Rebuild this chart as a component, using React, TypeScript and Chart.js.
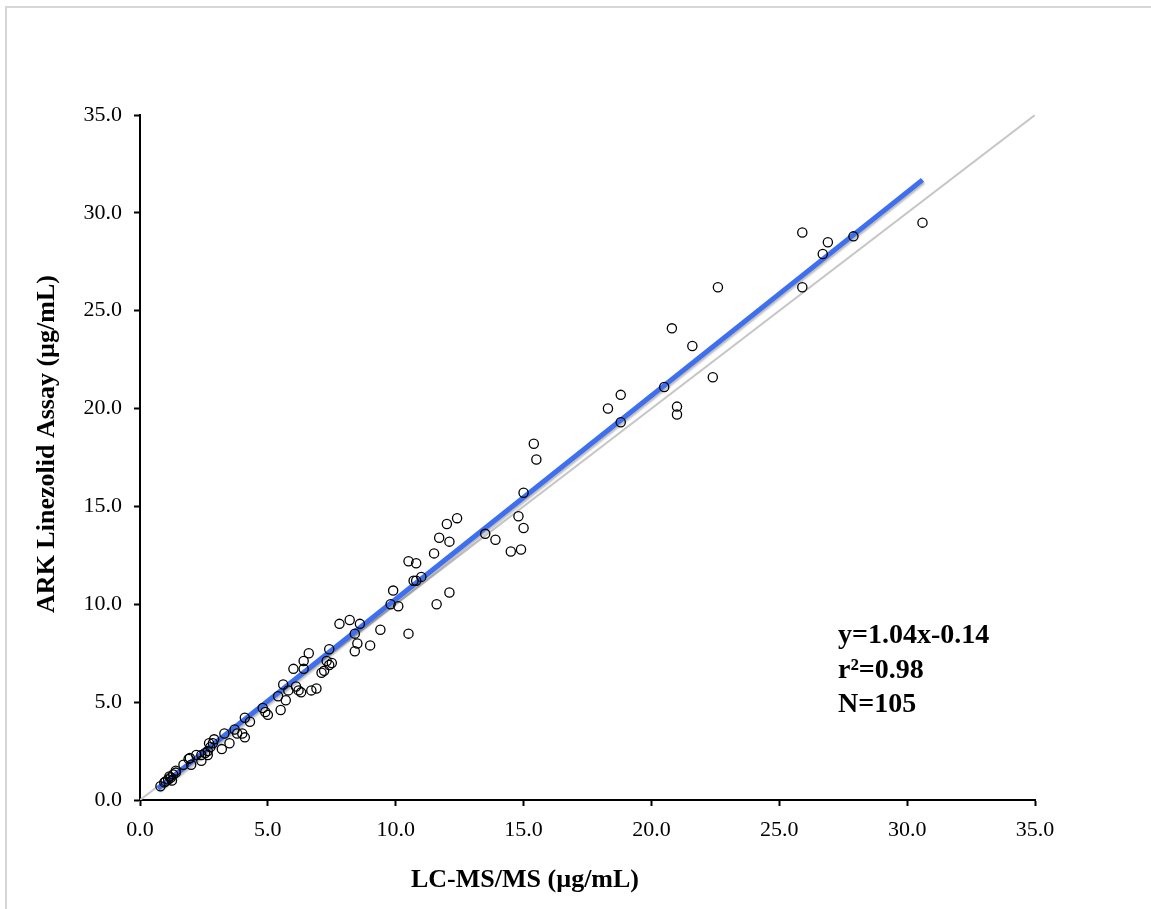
import React, { useEffect, useRef } from "react";
import { Chart, registerables } from "chart.js";

Chart.register(...registerables);

// LC-MS/MS (x) vs ARK Linezolid Assay (y), µg/mL
const lcmsValues = [
  25.9, 26.9, 26.7, 27.9, 30.6, 25.9, 22.6, 21.6, 20.8, 22.4, 20.5, 21.0, 21.0, 18.3, 18.8, 18.8,
  15.4, 15.5, 15.0, 14.8, 15.0, 13.5, 13.9, 14.5, 14.9,
  12.4, 12.0, 11.7, 12.1, 11.5, 10.5, 10.8, 10.7, 10.8, 11.0, 9.9, 9.8, 10.1, 12.1, 11.6, 9.4, 10.5,
  7.8, 8.2, 8.6, 8.4, 8.5, 8.4, 9.0, 7.4, 6.6, 6.4, 6.0, 6.4, 7.3, 7.4, 7.5, 7.1, 7.2,
  5.6, 5.4, 5.8, 5.7, 6.1, 6.2, 6.3, 6.7, 6.9, 4.8, 5.5, 4.9, 5.0,
  4.1, 4.3, 3.3, 3.7, 3.8, 4.0, 4.1, 3.5, 3.2, 2.9, 2.85, 2.7, 2.75, 2.65, 2.55, 2.4, 2.4, 2.65,
  1.95, 2.0, 1.7, 1.4, 1.4, 1.3, 1.15, 1.1, 1.25, 1.0, 0.8, 2.2, 1.9, 1.2, 0.95,
];
const arkValues = [
  29.0, 28.5, 27.9, 28.8, 29.5, 26.2, 26.2, 23.2, 24.1, 21.6, 21.1, 20.1, 19.7, 20.0, 20.7, 19.3,
  18.2, 17.4, 15.7, 14.5, 13.9, 13.6, 13.3, 12.7, 12.8,
  14.4, 14.1, 13.4, 13.2, 12.6, 12.2, 12.1, 11.2, 11.2, 11.4, 10.7, 10.0, 9.9, 10.6, 10.0, 8.7, 8.5,
  9.0, 9.2, 9.0, 8.5, 8.0, 7.6, 7.9, 7.7, 7.5, 7.1, 6.7, 6.7, 7.1, 6.9, 7.0, 6.5, 6.6,
  5.9, 5.3, 5.6, 5.1, 5.8, 5.6, 5.5, 5.6, 5.7, 4.7, 4.6, 4.5, 4.35,
  4.2, 4.0, 3.4, 3.6, 3.4, 3.4, 3.2, 2.9, 2.6, 3.1, 2.9, 2.9, 2.7, 2.5, 2.4, 2.3, 2.0, 2.3,
  2.15, 1.8, 1.8, 1.5, 1.4, 1.3, 1.2, 1.05, 1.0, 0.95, 0.7, 2.3, 2.1, 1.15, 0.9,
];

const fitSlope = 1.04;
const fitIntercept = -0.14;
const fitXRange = [0.7, 30.6];
const identityRange = [0, 35];
const tickValues = [0, 5, 10, 15, 20, 25, 30, 35];
const annotationLines = ["y=1.04x-0.14", "r\u00B2=0.98", "N=105"];
const xAxisTitle = "LC-MS/MS (\u00B5g/mL)";
const yAxisTitle = "ARK Linezolid Assay (\u00B5g/mL)";

const SERIF = "'Liberation Serif', 'Times New Roman', Times, serif";

export default function App() {
  const canvasRef = useRef<HTMLCanvasElement | null>(null);

  useEffect(() => {
    const canvas = canvasRef.current;
    if (!canvas) return;

    const points = lcmsValues.map((x, i) => ({ x, y: arkValues[i] }));
    const fitLine = fitXRange.map((x) => ({ x, y: fitSlope * x + fitIntercept }));
    const identity = identityRange.map((v) => ({ x: v, y: v }));

    const textPlugin = {
      id: "textPlugin",
      beforeDatasetDraw(chart: any, args: any) {
        if (args.index === 1) {
          const ctx = chart.ctx;
          ctx.save();
          ctx.shadowColor = "rgba(0,0,0,0.28)";
          ctx.shadowOffsetX = 1;
          ctx.shadowOffsetY = 2;
          ctx.shadowBlur = 2;
        }
      },
      afterDatasetDraw(chart: any, args: any) {
        if (args.index === 1) chart.ctx.restore();
      },
      afterDraw(chart: any) {
        const ctx = chart.ctx;
        const area = chart.chartArea;
        ctx.save();
        ctx.fillStyle = "#000";
        // axis titles
        ctx.font = `bold 26px ${SERIF}`;
        ctx.textAlign = "center";
        ctx.textBaseline = "middle";
        ctx.fillText(xAxisTitle, area.left + 385, area.bottom + 80);
        ctx.save();
        ctx.translate(area.left - 93, area.top + 329);
        ctx.rotate(-Math.PI / 2);
        ctx.fillText(yAxisTitle, 0, 0);
        ctx.restore();
        // annotation
        ctx.font = `bold 28px ${SERIF}`;
        ctx.textAlign = "left";
        ctx.textBaseline = "alphabetic";
        annotationLines.forEach((t, i) => {
          ctx.fillText(t, area.left + 698, area.top + 528 + i * 34.5);
        });
        ctx.restore();
      },
    };

    const chart = new Chart(canvas, {
      type: "scatter",
      data: {
        datasets: [
          {
            label: "Samples",
            data: points,
            pointRadius: 4.6,
            pointBorderWidth: 1.3,
            pointBorderColor: "#000",
            pointBackgroundColor: "rgba(0,0,0,0)",
            pointHoverRadius: 4.6,
            showLine: false,
            order: 0,
          },
          {
            label: "Fit",
            data: fitLine,
            showLine: true,
            borderColor: "#3d6ff0",
            borderWidth: 5,
            pointRadius: 0,
            order: 1,
          },
          {
            label: "Identity",
            data: identity,
            showLine: true,
            borderColor: "#c6c6c6",
            borderWidth: 2,
            pointRadius: 0,
            order: 2,
          },
        ],
      },
      options: {
        responsive: false,
        animation: false,
        devicePixelRatio: 1,
        layout: { padding: { left: 0, top: 115, right: 116, bottom: 0 } },
        plugins: {
          legend: { display: false },
          tooltip: { enabled: false },
          title: { display: false },
        },
        scales: {
          x: {
            type: "linear",
            min: 0,
            max: 35,
            afterBuildTicks: (s: any) => {
              s.ticks = tickValues.map((v) => ({ value: v }));
            },
            afterFit: (s: any) => {
              s.height = 109;
            },
            grid: {
              drawOnChartArea: false,
              drawTicks: true,
              tickLength: 6,
              tickWidth: 2,
              tickColor: "#000",
            },
            border: { display: true, color: "#000", width: 2 },
            ticks: {
              color: "#000",
              padding: 11,
              font: { family: SERIF, size: 22 },
              callback: (v: any) => Number(v).toFixed(1),
              maxRotation: 0,
            },
          },
          y: {
            type: "linear",
            min: 0,
            max: 35,
            afterBuildTicks: (s: any) => {
              s.ticks = tickValues.map((v) => ({ value: v }));
            },
            afterFit: (s: any) => {
              s.width = 140;
            },
            grid: {
              drawOnChartArea: false,
              drawTicks: true,
              tickLength: 6,
              tickWidth: 2,
              tickColor: "#000",
            },
            border: { display: true, color: "#000", width: 2 },
            ticks: {
              color: "#000",
              padding: 12,
              font: { family: SERIF, size: 22 },
              callback: (v: any) => Number(v).toFixed(1),
            },
          },
        },
      },
      plugins: [textPlugin],
    });

    return () => chart.destroy();
  }, []);

  return (
    <div style={{ position: "fixed", left: 0, top: 0, width: 1151, height: 909, background: "#fff" }}>
      <div
        style={{
          position: "absolute",
          left: 5,
          top: 6,
          right: 0,
          bottom: 0,
          borderLeft: "2px solid #d6d6d6",
          borderTop: "2px solid #d6d6d6",
        }}
      />
      <canvas
        ref={canvasRef}
        width={1151}
        height={909}
        style={{ position: "absolute", left: 0, top: 0, width: 1151, height: 909 }}
      />
    </div>
  );
}
